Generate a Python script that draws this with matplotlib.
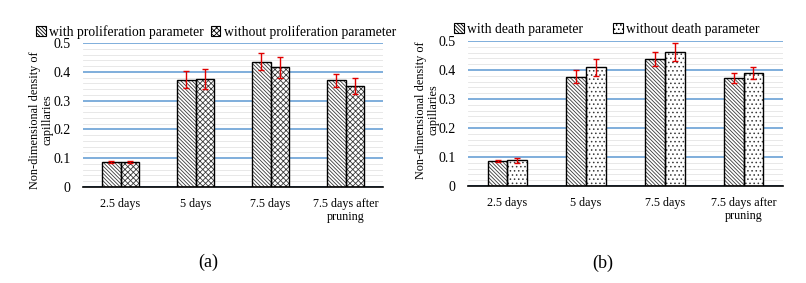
import matplotlib
matplotlib.use("Agg")
import matplotlib.pyplot as plt
import numpy as np
from matplotlib.patches import Patch

plt.rcParams['font.family'] = ['Liberation Serif', 'DejaVu Serif']
plt.rcParams['hatch.linewidth'] = 0.6

categories = ["2.5 days", "5 days", "7.5 days", "7.5 days after\npruning"]
yticks = [0, 0.1, 0.2, 0.3, 0.4, 0.5]
ytick_labels = ["0", "0.1", "0.2", "0.3", "0.4", "0.5"]

# panel (a)
with_prolif = [0.086, 0.373, 0.435, 0.370]
with_prolif_err = [0.003, 0.030, 0.029, 0.024]
without_prolif = [0.087, 0.376, 0.415, 0.351]
without_prolif_err = [0.003, 0.034, 0.035, 0.029]

# panel (b)
with_death = [0.087, 0.377, 0.438, 0.372]
with_death_err = [0.003, 0.023, 0.025, 0.018]
without_death = [0.088, 0.409, 0.462, 0.389]
without_death_err = [0.007, 0.030, 0.030, 0.020]

HATCH_WITH = '\\' * 9
HATCH_CROSS = 'x' * 6
HATCH_DOT = '....'
GRID_BLUE = '#7FAEDC'

fig = plt.figure(figsize=(8.06, 2.83), dpi=100)


def draw_bars(ax, x, vals, errs, hatch):
    ax.bar(x, vals, width=0.25, facecolor='white', edgecolor='#3a3a3a',
           hatch=hatch, linewidth=0, zorder=3)
    ax.bar(x, vals, width=0.25, facecolor='none', edgecolor='black',
           linewidth=1.0, zorder=4)
    ax.errorbar(x, vals, yerr=errs, fmt='none', ecolor='#E00000',
                elinewidth=1.0, capsize=2.5, capthick=1.0, zorder=5)


def setup(ax):
    ax.set_xlim(-0.5, 3.5)
    ax.set_ylim(0, 0.5)
    ax.set_yticks(yticks)
    ax.set_yticklabels(ytick_labels)
    ax.set_yticks(np.arange(0, 0.501, 0.02), minor=True)
    ax.set_xticks(range(len(categories)))
    ax.set_xticklabels(categories, fontsize=8.7, linespacing=1.15)
    ax.tick_params(axis='y', length=0, pad=9, labelsize=10)
    ax.tick_params(axis='y', which='minor', length=0)
    ax.tick_params(axis='x', length=0, pad=8)
    ax.grid(axis='y', which='minor', color='#E4E4E4', linewidth=0.6, zorder=0)
    ax.grid(axis='y', which='major', color=GRID_BLUE, linewidth=1.4, zorder=1)
    for s in ['top', 'right', 'left']:
        ax.spines[s].set_visible(False)
    ax.spines['bottom'].set_linewidth(1.2)
    ax.spines['bottom'].set_zorder(6)
    ax.set_axisbelow(True)


x = np.arange(len(categories))

ax1 = fig.add_axes([83 / 806, 1 - 187 / 283, 300 / 806, 144 / 283])
setup(ax1)
draw_bars(ax1, x - 0.125, with_prolif, with_prolif_err, HATCH_WITH)
draw_bars(ax1, x + 0.125, without_prolif, without_prolif_err, HATCH_CROSS)

ax2 = fig.add_axes([468 / 806, 1 - 186 / 283, 315 / 806, 145 / 283])
setup(ax2)
draw_bars(ax2, x - 0.125, with_death, with_death_err, HATCH_WITH)
draw_bars(ax2, x + 0.125, without_death, without_death_err, HATCH_DOT)

h1 = [Patch(facecolor='white', edgecolor='black', hatch=HATCH_WITH, linewidth=0.8),
      Patch(facecolor='white', edgecolor='black', hatch=HATCH_CROSS, linewidth=0.8)]
fig.legend(h1, ["with proliferation parameter", "without proliferation parameter"],
           loc='center', bbox_to_anchor=(216 / 806, 1 - 32 / 283), ncol=2,
           frameon=False, fontsize=9.8, handlelength=0.7, handleheight=0.7,
           handletextpad=0.25, columnspacing=0.5, borderpad=0)

h2 = [Patch(facecolor='white', edgecolor='black', hatch=HATCH_WITH, linewidth=0.8),
      Patch(facecolor='white', edgecolor='black', hatch=HATCH_DOT, linewidth=0.8)]
fig.legend(h2, ["with death parameter", "without death parameter"],
           loc='center', bbox_to_anchor=(607 / 806, 1 - 29 / 283), ncol=2,
           frameon=False, fontsize=9.8, handlelength=0.7, handleheight=0.7,
           handletextpad=0.25, columnspacing=2.2, borderpad=0)

ylabel = "Non-dimensional density of\ncapillaries"
fig.text(41 / 806, 1 - 120 / 283, ylabel, rotation=90, ha='center', va='center',
         multialignment='center', fontsize=8.8, linespacing=1.05)
fig.text(427 / 806, 1 - 110 / 283, ylabel, rotation=90, ha='center', va='center',
         multialignment='center', fontsize=8.8, linespacing=1.05)

fig.text(208 / 806, 1 - 262 / 283, "(a)", ha='center', va='center', fontsize=13)
fig.text(603 / 806, 1 - 263 / 283, "(b)", ha='center', va='center', fontsize=13)

fig.savefig("out.png", dpi=100)
